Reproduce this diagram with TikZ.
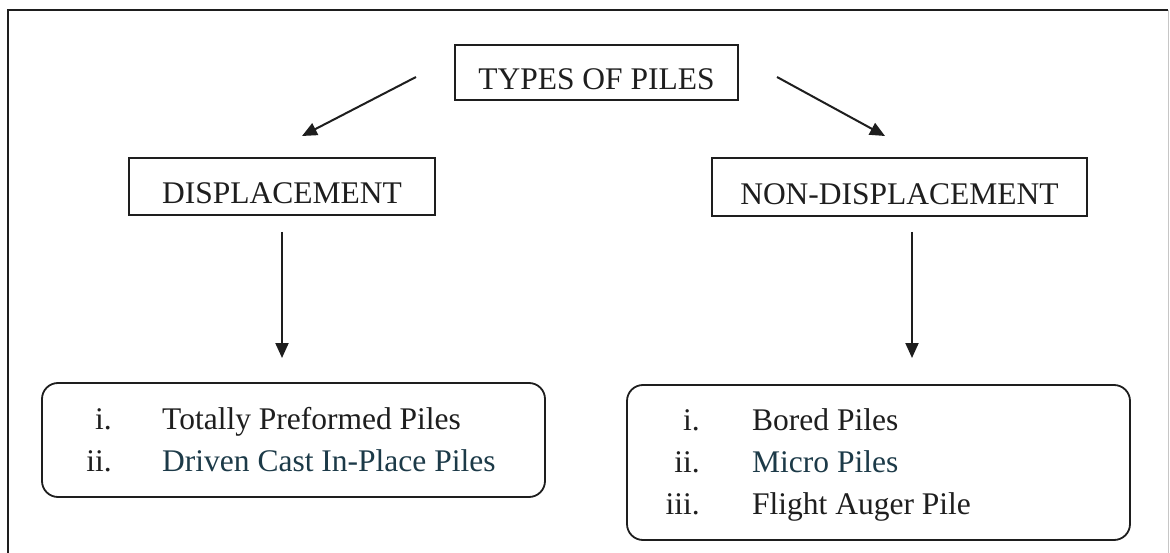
\documentclass[tikz,border=0pt]{standalone}
\usepackage{fontspec}
\setmainfont{Liberation Serif}
\usetikzlibrary{arrows.meta}
\definecolor{ink}{HTML}{1E1E1E}
\definecolor{tealink}{HTML}{1C3A48}
\begin{document}
\begin{tikzpicture}[x=1pt,y=-1pt,
  every node/.style={font=\fontsize{31.5}{42}\selectfont, text=ink},
  hbox/.style={draw=ink, line width=1.6pt, inner sep=0pt, align=center},
  lbox/.style={draw=ink, line width=1.8pt, rounded corners=16pt, inner sep=0pt},
  arr/.style={draw=ink, line width=2pt, -{Triangle[length=15pt,width=13pt]}},
  num/.style={anchor=base east, inner sep=0pt},
  item/.style={anchor=base west, inner sep=0pt}]
\useasboundingbox (0,0) rectangle (1170,553);
\fill[white] (0,0) rectangle (1170,553);
% outer frame
\draw[ink, line width=1.6pt] (8,560) -- (8,10) -- (1168,10);
\draw[gray!45, line width=1pt] (1168,10) -- (1168,560);

% heading boxes
\node[hbox, minimum width=283pt, text height=45pt, text depth=10pt] (types) at (596.5,72.5) {TYPES OF PILES};
\node[hbox, minimum width=306pt, text height=46pt, text depth=11pt] (disp) at (282,186.5) {DISPLACEMENT};
\node[hbox, minimum width=375pt, text height=47pt, text depth=11pt] (ndisp) at (899.5,187) {NON-DISPLACEMENT};

% list boxes
\node[lbox, minimum width=503pt, minimum height=114pt] (dlist) at (293.5,440) {};
\node[lbox, minimum width=503pt, minimum height=155pt] (nlist) at (878.5,462.5) {};

\node[num] (d1n) at (112,429) {i.};
\node[item] (d1) at (162,429) {Totally Preformed Piles};
\node[num] (d2n) at (112,471) {ii.};
\node[item, text=tealink] (d2) at (162,471) {Driven Cast In-Place Piles};

\node[num] (n1n) at (700,430) {i.};
\node[item] (n1) at (752,430) {Bored Piles};
\node[num] (n2n) at (700,472) {ii.};
\node[item, text=tealink] (n2) at (752,472) {Micro Piles};
\node[num] (n3n) at (700,514) {iii.};
\node[item] (n3) at (752,514) {Flight Auger Pile};

% connectors
\coordinate (la) at (416,77);
\coordinate (lb) at (302,136);
\coordinate (ra) at (777,77);
\coordinate (rb) at (885,136);
\coordinate (da) at (282,232);
\coordinate (db) at (282,358);
\coordinate (na) at (912,232);
\coordinate (nb) at (912,358);
\draw[arr] (la) -- (lb);
\draw[arr] (ra) -- (rb);
\draw[arr] (da) -- (db);
\draw[arr] (na) -- (nb);
\end{tikzpicture}
\end{document}
